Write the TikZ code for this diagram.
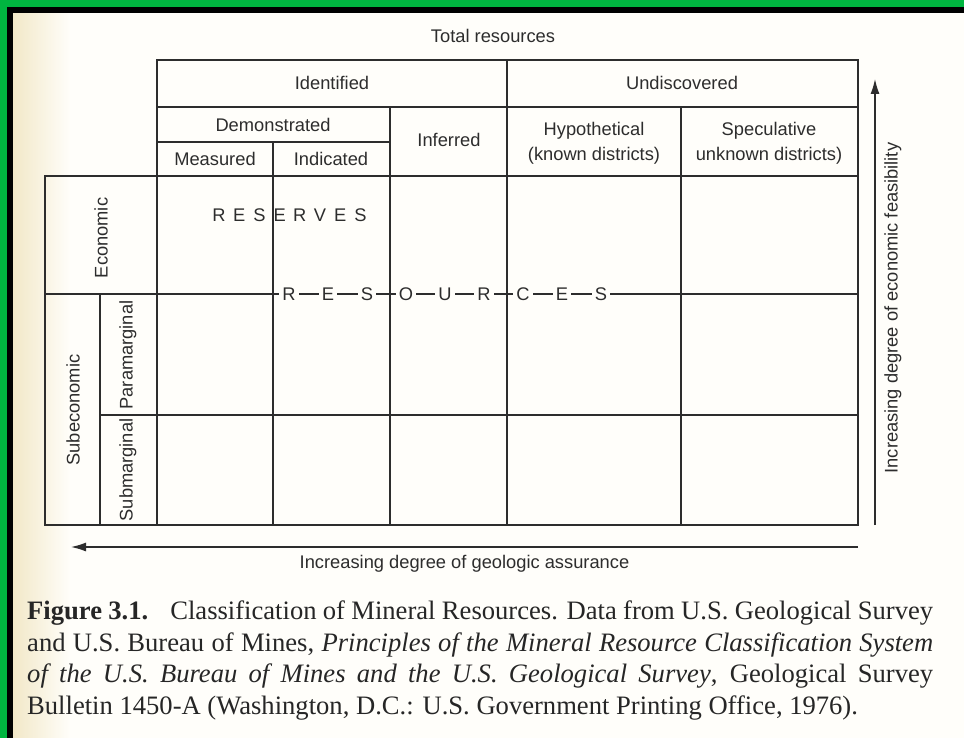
\documentclass[tikz,border=0pt]{standalone}
\usepackage{fontspec}
\setmainfont{Liberation Serif}
\setsansfont{Liberation Sans}
\usetikzlibrary{arrows.meta, positioning, calc}
\definecolor{paper}{RGB}{255,254,250}
\definecolor{gutter}{RGB}{242,232,200}
\definecolor{frame}{RGB}{0,182,64}
\definecolor{ink}{RGB}{45,45,45}

\begin{document}
\begin{tikzpicture}[x=1pt, y=-1pt, >={Latex[length=15pt, width=9pt]},
  grid/.style={draw=ink, line width=1.3pt},
  lbl/.style={font=\sffamily\fontsize{18.3}{25}\selectfont, text=ink, align=center, inner sep=0pt},
  vlbl/.style={lbl, rotate=90},
  letter/.style={lbl, fill=paper, inner xsep=3pt, inner ysep=2pt}]
\useasboundingbox (0,0) rectangle (964,738);
% page and frame
\fill[paper] (0,0) rectangle (964,738);
\shade[left color=gutter, right color=paper] (13,13) rectangle (70,738);
\fill[frame] (0,0) rectangle (964,7);
\fill[frame] (0,0) rectangle (7,738);
\fill[black] (7,7) rectangle (964,13);
\fill[black] (7,7) rectangle (13,738);

% table
\draw[grid] (157,60) rectangle (858,525);
\draw[grid] (45,176) rectangle (157,525);
\draw[grid] (157,107) -- (858,107);
\draw[grid] (157,142) -- (390,142);
\draw[grid] (45,176) -- (858,176);
\draw[grid] (45,294) -- (858,294);
\draw[grid] (100,415) -- (858,415);
\draw[grid] (100,294) -- (100,525);
\draw[grid] (273,142) -- (273,525);
\draw[grid] (390,107) -- (390,525);
\draw[grid] (507,60) -- (507,525);
\draw[grid] (681,107) -- (681,525);

% headings
\node[lbl] (total) at (493,36) {Total resources};
\node[lbl] (ident) at (332,83) {Identified};
\node[lbl] (undisc) at (682,83) {Undiscovered};
\node[lbl] (demo) at (273,125) {Demonstrated};
\node[lbl] (meas) at (215,159) {Measured};
\node[lbl] (indic) at (331,159) {Indicated};
\node[lbl] (infer) at (449,140) {Inferred};
\node[lbl] (hypo) at (594,143) {Hypothetical\\(known districts)};
\node[lbl] (spec) at (769,143) {Speculative\\unknown districts)};

% row labels
\node[vlbl] (econ) at (101,238) {Economic};
\node[vlbl] (subecon) at (73,410) {Subeconomic};
\node[vlbl] (para) at (128,355) {Paramarginal};
\node[vlbl] (submarg) at (128,470) {Submarginal};

% spaced words
\foreach \l [count=\i from 0] in {R,E,S,E,R,V,E,S}
  \node[lbl] (rsv\i) at (219+20.2*\i,215) {\l};
\foreach \l [count=\i from 0] in {R,E,S,O,U,R,C,E,S}
  \node[letter] (res\i) at (289+39*\i,294) {\l};

% axes
\coordinate (feasbot) at (875,525);
\coordinate (feastop) at (875,79);
\draw[draw=ink, line width=1.3pt, ->] (feasbot) -- (feastop);
\node[vlbl] (feas) at (893,308) {Increasing degree of economic feasibility};
\coordinate (assurR) at (858,547);
\coordinate (assurL) at (71,547);
\draw[draw=ink, line width=1.3pt, ->] (assurR) -- (assurL);
\node[lbl, below=8pt of $(assurL)!0.5!(assurR)$] (assur) {Increasing degree of geologic assurance};

% caption
\node[anchor=north west, text width=906pt, align=justify, inner sep=0pt,
  font=\fontsize{26.6}{31.5}\selectfont, text=black!85] (cap) at (27,601)
  {\textbf{Figure 3.1.}\hspace{0.5em} Classification of Mineral Resources. Data from U.S. Geological Survey\linebreak
   and U.S. Bureau of Mines, \textit{Principles of the Mineral Resource Classification System}\linebreak
   \textit{of the U.S. Bureau of Mines and the U.S. Geological Survey}, Geological Survey\linebreak
   Bulletin 1450-A (Washington, D.C.: U.S. Government Printing Office, 1976).};
\end{tikzpicture}
\end{document}
